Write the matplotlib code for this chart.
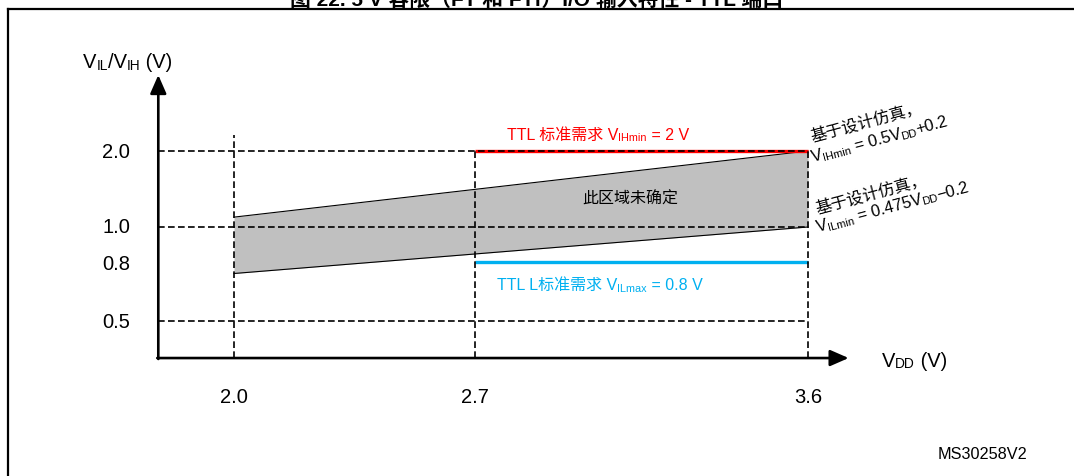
import numpy as np
import matplotlib.pyplot as plt
from matplotlib.lines import Line2D
from matplotlib import transforms

plt.rcParams['font.family'] = ['Liberation Sans', 'Noto Sans CJK SC', 'DejaVu Sans']

# Supply voltage VDD (V) marked on the x axis
vdd_ticks = [2.0, 2.7, 3.6]
vdd_labels = ['2.0', '2.7', '3.6']

# Input levels (V) marked on the y axis, dashed guides at some of them
v_ticks = [2.0, 1.0, 0.8, 0.5]
v_labels = ['2.0', '1.0', '0.8', '0.5']
dashed_levels = [2.0, 1.0, 0.5]

# Undefined region between VILmin and VIHmin
band_vdd = [2.0, 3.6]
band_vih = [1.13, 2.0]
band_vil = [0.75, 1.0]

# TTL standard requirements, shown from 2.7 V to 3.6 V
ttl_vdd = [2.7, 3.6]
ttl_vih = [2.0, 2.0]
ttl_vil = [0.81, 0.81]

W, H = 1074, 477

# The original axes are schematic (not linear), so use a piecewise scale
x_knots = [1.32, 2.0, 2.7, 3.6, 4.32]
x_pix = [0, 234, 475, 808, 1074]
y_knots = [-0.316, 0.5, 0.8, 1.0, 2.0, 4.0]
y_pix = [0, 155, 212, 249, 325, 477]

def fx(v):
    return np.interp(v, x_knots, x_pix)

def fx_inv(p):
    return np.interp(p, x_pix, x_knots)

def fy(v):
    return np.interp(v, y_knots, y_pix)

def fy_inv(p):
    return np.interp(p, y_pix, y_knots)

fig = plt.figure(figsize=(W / 100, H / 100), dpi=100)
ax = fig.add_axes([0, 0, 1, 1])
ax.set_xscale('function', functions=(fx, fx_inv))
ax.set_yscale('function', functions=(fy, fy_inv))
ax.set_xlim(x_knots[0], x_knots[-1])
ax.set_ylim(y_knots[0], y_knots[-1])
ax.axis('off')
renderer = fig.canvas.get_renderer()

# axis origin and arrow ends
x0, y0 = 1.78, 0.305
x_end, y_top = 3.71, 3.0

# Axes with arrow heads
arrow = dict(arrowstyle='-|>,head_length=0.8,head_width=0.35', mutation_scale=14,
             color='black', lw=1.9, shrinkA=0, shrinkB=0)
ax.annotate('', xy=(x_end, y0), xytext=(x0 - 0.003, y0), arrowprops=arrow)
ax.annotate('', xy=(x0, y_top), xytext=(x0, y0 - 0.005), arrowprops=arrow)

# Grey undefined band
ax.fill_between(band_vdd, band_vil, band_vih, color='#c0c0c0', lw=0, zorder=1)
ax.plot(band_vdd, band_vih, color='black', lw=0.8, zorder=2)
ax.plot(band_vdd, band_vil, color='black', lw=0.8, zorder=2)

# TTL requirement lines
ax.plot(ttl_vdd, ttl_vih, color='#ff0000', lw=2.4, zorder=2, solid_capstyle='butt')
ax.plot(ttl_vdd, ttl_vil, color='#00b0f0', lw=2.4, zorder=2, solid_capstyle='butt')

# Dashed guide lines
dash = dict(color='black', lw=1.2, linestyle=(0, (4, 2)), zorder=3)
for lvl in dashed_levels:
    ax.plot([x0, vdd_ticks[-1]], [lvl, lvl], **dash)
ax.plot([vdd_ticks[0], vdd_ticks[0]], [y0, 2.21], **dash)
for v in vdd_ticks[1:]:
    ax.plot([v, v], [y0, 2.0], **dash)

# Tick labels
tx = transforms.blended_transform_factory(ax.transData, fig.transFigure)
for v, lab in zip(vdd_ticks, vdd_labels):
    ax.text(v, 1 - 398 / H, lab, transform=tx, ha='center', va='center', fontsize=14.5)
ty = transforms.blended_transform_factory(fig.transFigure, ax.transData)
for v, lab in zip(v_ticks, v_labels):
    ax.text(130 / W, v, lab, transform=ty, ha='right', va='center', fontsize=14.5)


def rich(x, y, parts, size, rotation=0, color='black'):
    # write pieces one after another on a common baseline; (text, 1) = subscript
    th = np.radians(rotation)
    ux, uy = np.cos(th), np.sin(th)
    px, py = x, H - y
    for s, sub in parts:
        fs = size * 0.68 if sub else size
        drop = 1.5 if sub else 0.0
        t = fig.text((px + uy * drop) / W, (py - ux * drop) / H, s, fontsize=fs,
                     color=color, ha='left', va='baseline', rotation_mode='anchor')
        w = t.get_window_extent(renderer).width
        t.set_rotation(rotation)
        px += w * ux
        py += w * uy


rich(83, 68, [('V', 0), ('IL', 1), ('/V', 0), ('IH', 1), (' (V)', 0)], 14.5)
rich(882, 367, [('V', 0), ('DD', 1), (' (V)', 0)], 14.5)

rich(507, 139.5, [('TTL 标准需求 V', 0), ('IHmin', 1), (' = 2 V', 0)], 11.5, color='#ff0000')
rich(497, 290, [('TTL L标准需求 V', 0), ('ILmax', 1), (' = 0.8 V', 0)], 11.5, color='#00b0f0')
fig.text(630 / W, 1 - 199 / H, '此区域未确定', ha='center', va='center', fontsize=11.5,
         color='black')

rich(812, 141, [('基于设计仿真，', 0)], 11.8, rotation=15)
rich(813, 162, [('V', 0), ('IHmin', 1), (' = 0.5V', 0), ('DD', 1), ('+0.2', 0)], 11.8, rotation=15)
rich(817, 213, [('基于设计仿真，', 0)], 11.8, rotation=15)
rich(818, 232, [('V', 0), ('ILmin', 1), (' = 0.475V', 0), ('DD', 1), ('−0.2', 0)], 11.8, rotation=15)

fig.text(938 / W, 1 - 455 / H, 'MS30258V2', ha='left', va='center', fontsize=11.7)

# Title (cut off at the top in the original) and frame
fig.text(537 / W, 1 - 6 / H, '图 22. 5 V 容限（FT 和 FTf）I/O 输入特性 - TTL 端口', ha='center',
         va='baseline', fontsize=15, fontweight='bold')
fig.add_artist(Line2D([8 / W, 8 / W], [0, 1 - 10 / H], color='black', lw=1.6))
fig.add_artist(Line2D([8 / W, 1], [1 - 10 / H, 1 - 10 / H], color='black', lw=1.6))

plt.savefig('out.png', dpi=100)
